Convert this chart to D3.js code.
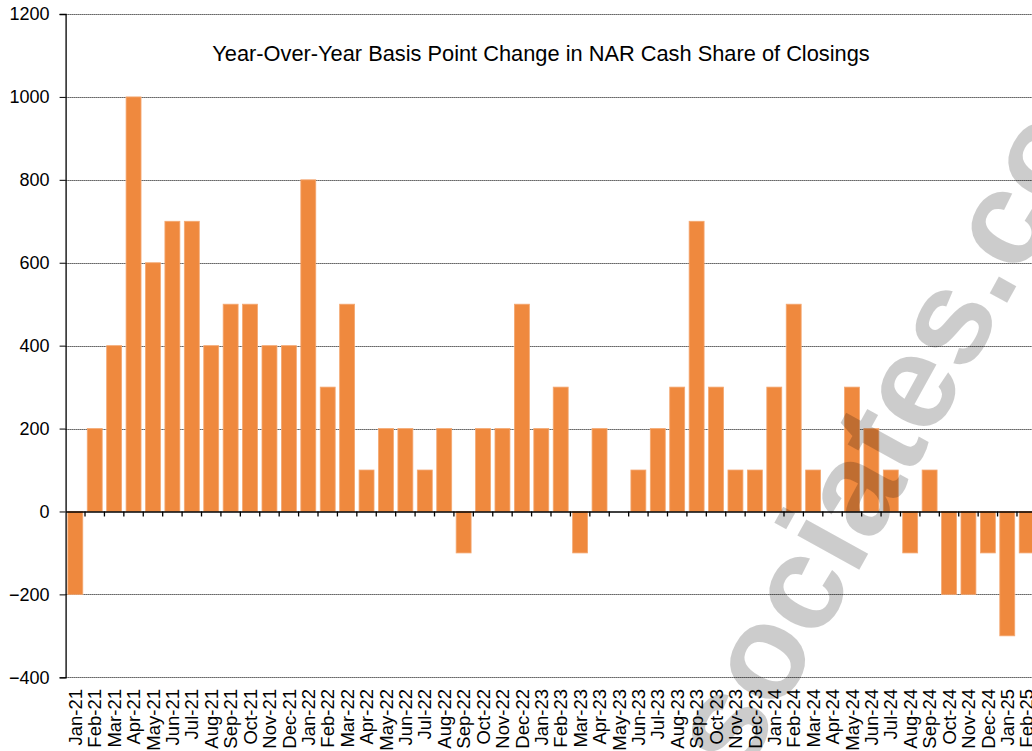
<!DOCTYPE html>
<html>
<head>
<meta charset="utf-8">
<script src="https://cdn.jsdelivr.net/npm/d3@7"></script>
<style>
  html, body { margin: 0; padding: 0; background: #fff; }
  svg { display: block; }
  text { font-family: "Liberation Sans", Arial, sans-serif; }
</style>
</head>
<body>
<svg id="chart" width="1032" height="751"></svg>
<script>
const categories = ["Jan-21","Feb-21","Mar-21","Apr-21","May-21","Jun-21","Jul-21","Aug-21","Sep-21","Oct-21","Nov-21","Dec-21",
  "Jan-22","Feb-22","Mar-22","Apr-22","May-22","Jun-22","Jul-22","Aug-22","Sep-22","Oct-22","Nov-22","Dec-22",
  "Jan-23","Feb-23","Mar-23","Apr-23","May-23","Jun-23","Jul-23","Aug-23","Sep-23","Oct-23","Nov-23","Dec-23",
  "Jan-24","Feb-24","Mar-24","Apr-24","May-24","Jun-24","Jul-24","Aug-24","Sep-24","Oct-24","Nov-24","Dec-24",
  "Jan-25","Feb-25"];
const values = [-200,200,400,1000,600,700,700,400,500,500,400,400,
  800,300,500,100,200,200,100,200,-100,200,200,500,
  200,300,-100,200,0,100,200,300,700,300,100,100,
  300,500,100,0,300,200,100,-100,100,-200,-200,-100,
  -300,-100];
const yTicks = [-400,-200,0,200,400,600,800,1000,1200];
const title = "Year-Over-Year Basis Point Change in NAR Cash Share of Closings";
const watermark = "sociates.com";

const svg = d3.select("#chart");
svg.append("rect").attr("width",1032).attr("height",751).attr("fill","#fff");

const left = 65.6, step = 19.416;
const x = d3.scaleBand().domain(categories)
  .range([left, left + step * categories.length])
  .paddingInner(0.23).paddingOuter(0.115);
const y = d3.scaleLinear().domain([-400, 1200]).range([677.3, 14]);

// gridlines
svg.append("g").selectAll("line").data(yTicks.filter(d => d !== 0)).join("line")
  .attr("x1", left).attr("x2", 1036)
  .attr("y1", d => Math.round(y(d)) + 0.5).attr("y2", d => Math.round(y(d)) + 0.5)
  .attr("stroke", "#000").attr("stroke-width", 1).attr("stroke-dasharray", "1,1");

// bars
svg.append("g").selectAll("rect").data(categories).join("rect")
  .attr("x", d => x(d))
  .attr("width", x.bandwidth())
  .attr("y", (d, i) => y(Math.max(0, values[i])))
  .attr("height", (d, i) => Math.abs(y(values[i]) - y(0)))
  .attr("fill", "#ef893e")
  .attr("stroke", "#f4a872").attr("stroke-width", 0.8);

// y axis
const yAxis = d3.axisLeft(y).tickValues(yTicks).tickSize(6).tickPadding(10).tickFormat(d3.format("d"));
const gy = svg.append("g").attr("transform", `translate(${left},0)`).call(yAxis);
gy.select(".domain").attr("stroke", "#000").attr("stroke-width", 1.3);
gy.selectAll(".tick line").attr("stroke", "#000");
gy.selectAll(".tick text").style("font-size", "18px").attr("fill", "#000")
  .style("font-family", '"Liberation Sans", Arial, sans-serif');

// x axis at zero with ticks at band boundaries
const xAxis = d3.axisBottom(x).tickSize(0).tickFormat("");
const gx = svg.append("g").attr("transform", `translate(0,${y(0)})`).call(xAxis);
gx.select(".domain").attr("stroke", "#000").attr("stroke-width", 1.3);
const boundaries = categories.map(c => x(c) - (x.step() - x.bandwidth()) / 2).slice(1);
gx.append("g").selectAll("line").data(boundaries).join("line")
  .attr("x1", d => d).attr("x2", d => d).attr("y1", 0).attr("y2", 5)
  .attr("stroke", "#000").attr("stroke-width", 1.3);

// category labels (rotated)
svg.append("g").selectAll("text").data(categories).join("text")
  .attr("transform", d => `translate(${x(d) + x.bandwidth() / 2},689) rotate(-90)`)
  .attr("text-anchor", "end")
  .attr("dy", "0.36em")
  .attr("fill", "#000")
  .style("font-size", "18.5px")
  .text(d => d);

// title
svg.append("text").attr("x", 541).attr("y", 61).attr("text-anchor", "middle")
  .attr("fill", "#000")
  .style("font-size", "21.8px").text(title);

// watermark
svg.append("text")
  .attr("transform", "translate(742.7,779.9) rotate(-61)")
  .style("font-size", "134px").style("font-weight", "bold")
  .attr("fill", "#000").attr("fill-opacity", 0.2)
  .text(watermark);
</script>
</body>
</html>
